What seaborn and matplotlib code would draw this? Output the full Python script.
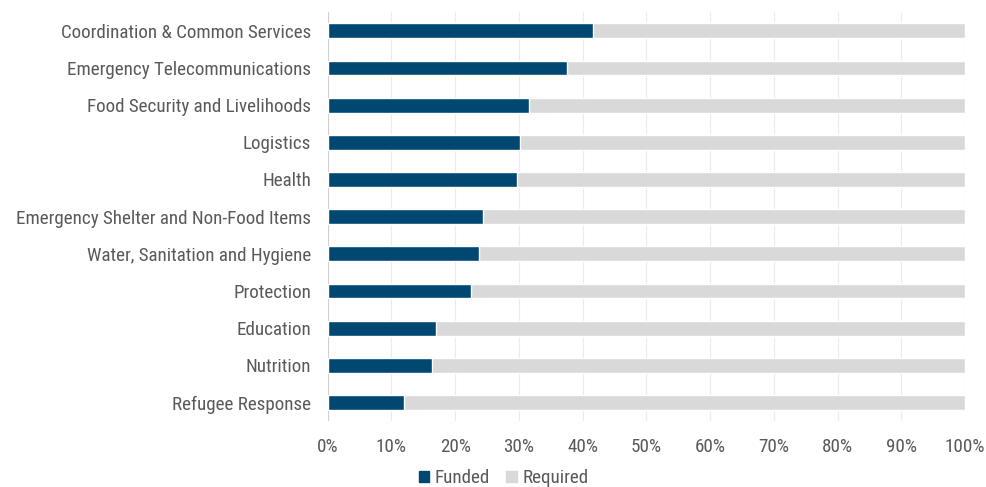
import os
import matplotlib
matplotlib.use("Agg")
import matplotlib.pyplot as plt
import seaborn as sns
import pandas as pd
from matplotlib import font_manager
from matplotlib.font_manager import FontProperties
from matplotlib.patches import Patch

categories = [
    "Coordination & Common Services",
    "Emergency Telecommunications",
    "Food Security and Livelihoods",
    "Logistics",
    "Health",
    "Emergency Shelter and Non-Food Items",
    "Water, Sanitation and Hygiene",
    "Protection",
    "Education",
    "Nutrition",
    "Refugee Response",
]
funded = [41.6, 37.5, 31.6, 30.1, 29.7, 24.3, 23.8, 22.5, 17.0, 16.3, 12.0]
required = [100] * len(categories)
xticks = [0, 10, 20, 30, 40, 50, 60, 70, 80, 90, 100]

sns.set_theme(style="white")
plt.rcParams["font.family"] = ["Roboto", "DejaVu Sans"]

# look for a condensed face (the reference uses a condensed sans)
prefs = ["robotocondensed-regular", "notosans-condensed.", "dejavusanscondensed.",
         "liberationsansnarrow-regular"]
files = [f.fname for f in font_manager.fontManager.ttflist]
chosen = None
for p in prefs:
    for fn in files:
        if p in os.path.basename(fn).lower():
            chosen = fn
            break
    if chosen:
        break

if chosen:
    fp = FontProperties(fname=chosen, size=13.7)
    fpl = FontProperties(fname=chosen, size=13.7)
else:
    fp = FontProperties(family="Roboto", size=12)
    fpl = FontProperties(family="Roboto", size=12)

df = pd.DataFrame({"category": categories, "Funded": funded, "Required": required})

fig = plt.figure(figsize=(9.86, 4.87), dpi=100)
ax = fig.add_axes([0.3324, 0.1353, 0.6463, 0.8397])

blue = "#004872"
gray = "#d9d9d9"
sns.barplot(data=df, y="category", x="Required", color=gray, orient="h",
            width=0.4, ax=ax, saturation=1, zorder=2)
sns.barplot(data=df, y="category", x="Funded", color=blue, orient="h",
            width=0.4, ax=ax, saturation=1, zorder=3)

ax.set_xlim(0, 100)
ax.set_ylim(len(categories) - 0.5, -0.5)
ax.set_xticks(xticks)
ax.set_xticklabels([f"{v}%" for v in xticks], fontproperties=fp, color="#595959")
ax.set_yticks(range(len(categories)))
ax.set_yticklabels(categories, fontproperties=fp, color="#595959")
ax.grid(axis="x", color="#ececec", linewidth=0.8, zorder=0)
ax.set_axisbelow(True)
for s in ax.spines.values():
    s.set_visible(False)
ax.set_xlabel("")
ax.set_ylabel("")
ax.tick_params(axis="both", length=0)
ax.tick_params(axis="y", pad=12)
ax.tick_params(axis="x", pad=12)
ax.axvline(0, color="#d0d0d0", linewidth=0.8, zorder=1)

handles = [Patch(color=blue, label="Funded"), Patch(color=gray, label="Required")]
fig.legend(handles=handles, loc="center", bbox_to_anchor=(0.5108, 0.018), ncol=2,
           frameon=False, prop=fpl, handlelength=0.55, handleheight=0.55,
           handletextpad=0.3, columnspacing=0.85, labelcolor="#595959")

fig.savefig("out.png", dpi=100)
